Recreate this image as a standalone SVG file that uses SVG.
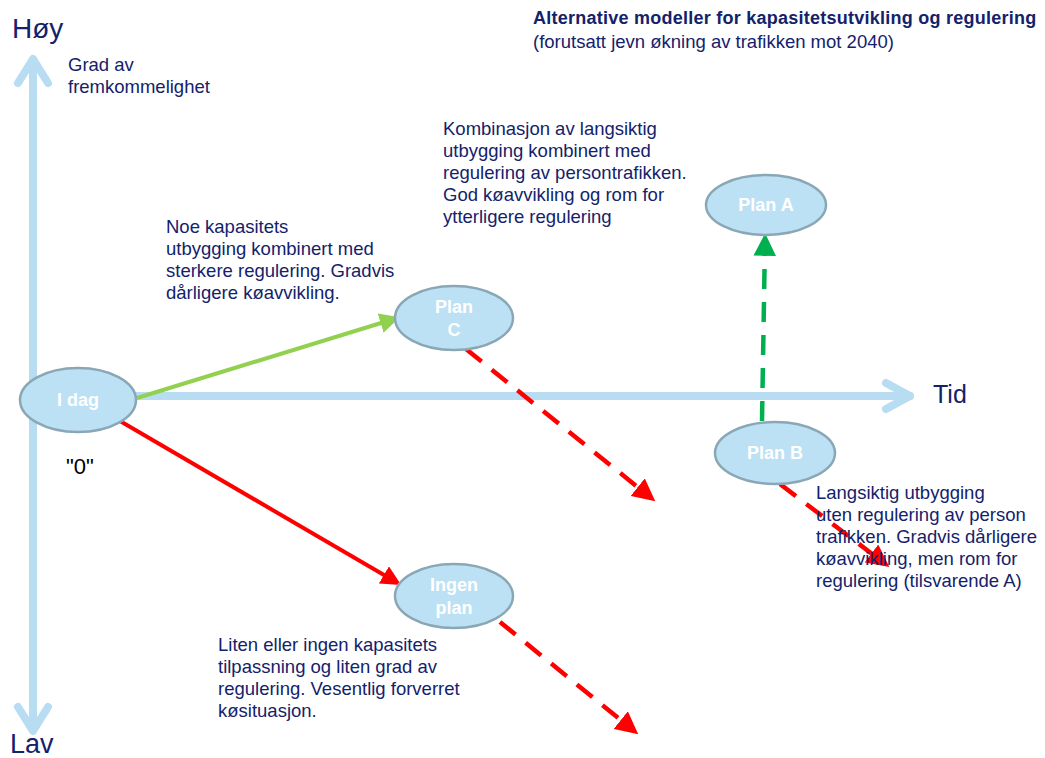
<svg xmlns="http://www.w3.org/2000/svg" width="1045" height="758" viewBox="0 0 1045 758">
<defs>
<style>
.t{font-family:"Liberation Sans",Arial,sans-serif;fill:#13226B;font-size:18.5px}
.node ellipse{fill:#BDE1F4;stroke:#8AA7B6;stroke-width:2.5}
.nl{font-family:"Liberation Sans",Arial,sans-serif;fill:#FFFFFF;font-size:18px;font-weight:bold;text-anchor:middle}
.axis{stroke:#B8DDF2;stroke-width:8;fill:none;stroke-linecap:round;stroke-linejoin:round}
</style>
<marker id="mg" markerWidth="5" markerHeight="5" refX="3.5" refY="2.5" orient="auto" markerUnits="strokeWidth"><path d="M0,0 L5,2.5 L0,5 z" fill="#92D050"/></marker>
<marker id="mr" markerWidth="5" markerHeight="5" refX="3.5" refY="2.5" orient="auto" markerUnits="strokeWidth"><path d="M0,0 L5,2.5 L0,5 z" fill="#FF0000"/></marker>
<marker id="mgd" markerWidth="5" markerHeight="5" refX="3.5" refY="2.5" orient="auto" markerUnits="strokeWidth"><path d="M0,0 L5,2.5 L0,5 z" fill="#00B050"/></marker>
</defs>
<rect width="1045" height="758" fill="#FFFFFF"/>
<g id="axes">
<line class="axis" x1="33" y1="60" x2="33" y2="730"/>
<polyline class="axis" points="18,83 33,59 48,83"/>
<polyline class="axis" points="18,707 33,731 48,707"/>
<line class="axis" x1="130" y1="396" x2="910" y2="396"/>
<polyline class="axis" points="886,383 910,396 886,409"/>
</g>
<g id="connectors">
<line x1="137" y1="398" x2="394" y2="319" stroke="#92D050" stroke-width="4" marker-end="url(#mg)"/>
<line x1="120" y1="421" x2="396" y2="582" stroke="#FF0000" stroke-width="4" marker-end="url(#mr)"/>
<line x1="466" y1="349" x2="650" y2="497" stroke="#FF0000" stroke-width="4.5" stroke-dasharray="20,13" marker-end="url(#mr)"/>
<line x1="500" y1="622" x2="633" y2="730" stroke="#FF0000" stroke-width="4.5" stroke-dasharray="20,13" marker-end="url(#mr)"/>
<line x1="780" y1="484" x2="884" y2="563" stroke="#FF0000" stroke-width="4.5" stroke-dasharray="20,13" marker-end="url(#mr)"/>
<line x1="762" y1="421" x2="765" y2="240" stroke="#00B050" stroke-width="4.5" stroke-dasharray="20,13" marker-end="url(#mgd)"/>
</g>
<g id="node-idag" class="node"><ellipse cx="78" cy="400" rx="58" ry="32"/><text class="nl" x="78" y="406">I dag</text></g>
<g id="node-planc" class="node"><ellipse cx="454" cy="318" rx="59" ry="32"/><text class="nl" x="454" y="313">Plan</text><text class="nl" x="454" y="336">C</text></g>
<g id="node-plana" class="node"><ellipse cx="766" cy="205" rx="60" ry="30"/><text class="nl" x="766" y="211">Plan A</text></g>
<g id="node-planb" class="node"><ellipse cx="775" cy="453" rx="60" ry="31"/><text class="nl" x="775" y="459">Plan B</text></g>
<g id="node-ingen" class="node"><ellipse cx="454" cy="596" rx="59" ry="32"/><text class="nl" x="454" y="591">Ingen</text><text class="nl" x="454" y="614">plan</text></g>
<g id="labels">
<text class="t" x="12" y="38" style="font-size:28px">Høy</text>
<text class="t" x="10" y="753" style="font-size:27px">Lav</text>
<text class="t" x="933" y="403" style="font-size:25px">Tid</text>
<text class="t" x="68" y="71">Grad av</text>
<text class="t" x="68" y="93">fremkommelighet</text>
<text x="66" y="474" style="font-family:'Liberation Sans',Arial,sans-serif;font-size:22px;fill:#000">"0"</text>
<text class="t" x="533" y="24" style="font-weight:bold;font-size:18px;letter-spacing:0.25px">Alternative modeller for kapasitetsutvikling og regulering</text>
<text class="t" x="533" y="48" style="font-size:18.5px">(forutsatt jevn økning av trafikken mot 2040)</text>
<text class="t" x="443" y="135">Kombinasjon av langsiktig</text>
<text class="t" x="443" y="157">utbygging kombinert med</text>
<text class="t" x="443" y="179">regulering av persontrafikken.</text>
<text class="t" x="443" y="201">God køavvikling og rom  for</text>
<text class="t" x="443" y="223">ytterligere regulering</text>
<text class="t" x="166" y="233">Noe kapasitets</text>
<text class="t" x="166" y="255">utbygging kombinert med</text>
<text class="t" x="166" y="277">sterkere regulering. Gradvis</text>
<text class="t" x="166" y="299">dårligere køavvikling.</text>
<text class="t" x="816" y="499">Langsiktig utbygging</text>
<text class="t" x="816" y="521">uten regulering av person</text>
<text class="t" x="816" y="543">trafikken. Gradvis dårligere</text>
<text class="t" x="816" y="565">køavvikling, men rom for</text>
<text class="t" x="816" y="587">regulering (tilsvarende A)</text>
<text class="t" x="218" y="651">Liten eller ingen kapasitets</text>
<text class="t" x="218" y="673">tilpassning og liten grad av</text>
<text class="t" x="218" y="695">regulering. Vesentlig forverret</text>
<text class="t" x="218" y="717">køsituasjon.</text>
</g>
</svg>
